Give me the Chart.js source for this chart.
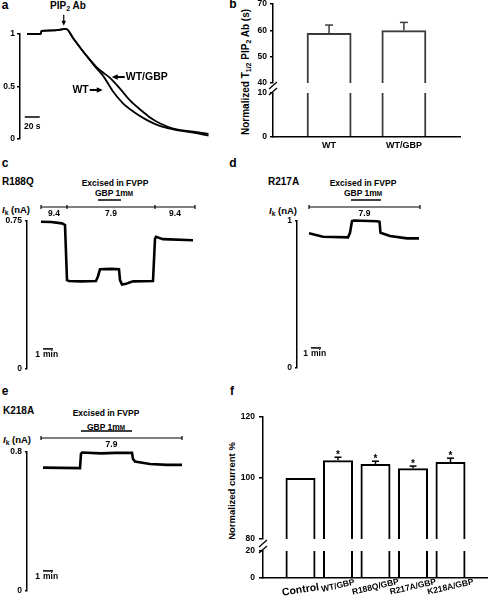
<!DOCTYPE html>
<html>
<head>
<meta charset="utf-8">
<script src="https://cdn.jsdelivr.net/npm/chart.js@4/dist/chart.umd.min.js"></script>
<style>
  body { margin: 0; width: 488px; height: 599px; position: relative; overflow: hidden; background: #fff;
         font-family: "Liberation Sans", Arial, sans-serif; font-weight: bold; color: #000; }
  canvas { position: absolute; }
  .t { position: absolute; line-height: 1; white-space: nowrap; transform: translate(-50%, -50%); }
  .l { transform: translate(0, -50%); }
  .v { transform: translate(-50%, -50%) rotate(-90deg); }
  sub { font-size: 0.7em; vertical-align: -0.3em; line-height: 0; }
</style>
</head>
<body>
<div class="t" style="left:5px;top:5px;font-size:12px">a</div>
<div class="t" style="left:233px;top:4px;font-size:12px">b</div>
<div class="t" style="left:5px;top:163px;font-size:12px">c</div>
<div class="t" style="left:233px;top:163px;font-size:12px">d</div>
<div class="t" style="left:5px;top:391px;font-size:12px">e</div>
<div class="t" style="left:232px;top:391px;font-size:12px">f</div>

<div class="t" style="left:68px;top:6px;font-size:10px">PIP<sub>2</sub> Ab</div>
<div class="t v" style="left:246px;top:72px;font-size:10px">Normalized T<sub>1/2</sub> PIP<sub>2</sub> Ab (s)</div>

<div class="t l" style="left:2px;top:182px;font-size:10px">R188Q</div>
<div class="t" style="left:115px;top:183px;font-size:8.5px">Excised in FVPP</div>
<div class="t" style="left:114px;top:193px;font-size:8.5px">GBP 1m<span style="font-size:.75em">M</span></div>
<div class="t l" style="left:2px;top:210px;font-size:9.5px"><i>I</i><sub>k</sub> (nA)</div>

<div class="t l" style="left:268px;top:182px;font-size:10px">R217A</div>
<div class="t" style="left:363px;top:183px;font-size:8.5px">Excised in FVPP</div>
<div class="t" style="left:363px;top:193px;font-size:8.5px">GBP 1m<span style="font-size:.75em">M</span></div>
<div class="t l" style="left:269px;top:211px;font-size:9.5px"><i>I</i><sub>k</sub> (nA)</div>

<div class="t l" style="left:3px;top:411px;font-size:10px">K218A</div>
<div class="t" style="left:106px;top:413px;font-size:8.5px">Excised in FVPP</div>
<div class="t" style="left:106px;top:427px;font-size:8.5px">GBP 1m<span style="font-size:.75em">M</span></div>
<div class="t l" style="left:3px;top:440px;font-size:9.5px"><i>I</i><sub>k</sub> (nA)</div>

<div class="t v" style="left:232px;top:491px;font-size:9.5px">Normalized current %</div>

<script>
// ---- data ----
// a: normalized current after PIP2 antibody, time in s
const aTimeWT = [0, 18, 19.5, 37, 52, 62, 72, 82, 92, 100, 104, 115, 128, 142, 160, 177, 195, 222, 242];
const aWT     = [1, 1, 1.03, 1.035, 1.048, 0.955, 0.86, 0.77, 0.68, 0.615, 0.575, 0.45, 0.34, 0.26, 0.18, 0.125, 0.092, 0.06, 0.032];
const aTimeGBP = [0, 18, 19.5, 37, 52, 62, 72, 82, 92, 100, 111, 124, 137, 151, 164, 177, 195, 222, 242];
const aGBP     = [1, 1, 1.03, 1.035, 1.048, 0.955, 0.86, 0.77, 0.69, 0.64, 0.58, 0.48, 0.37, 0.28, 0.205, 0.15, 0.1, 0.07, 0.048];

// b: T1/2 (s)
const bGroups = ['WT', 'WT/GBP'];
const bMean = [59, 60];
const bSem = [3, 3];

// c, d, e: current traces, time in min
const cTime = [0, 1, 2.1, 2.4, 2.6, 2.8, 4, 5.5, 5.7, 5.9, 7, 7.8, 7.9, 8.1, 8.5, 9.2, 11.2, 11.4, 11.5, 12.2, 15.2];
const cCurrent = [0.746, 0.745, 0.738, 0.73, 0.45, 0.446, 0.444, 0.446, 0.47, 0.505, 0.507, 0.505, 0.45, 0.428, 0.432, 0.444, 0.446, 0.66, 0.67, 0.658, 0.652];
const cPhEdges = [0, 2.6, 11.4, 15.4];
const cPh = ['9.4', '7.9', '9.4'];
const cGbp = [5.7, 8.0];

const dTime = [0, 1.4, 3.9, 4.1, 4.3, 4.5, 6.8, 7.05, 7.15, 8.1, 9.8, 11];
const dCurrent = [0.916, 0.893, 0.889, 0.92, 1.0, 1.003, 0.998, 0.995, 0.92, 0.898, 0.882, 0.882];
const dPhEdges = [0, 11.1];
const dPh = ['7.9'];
const dGbp = [4.2, 7.2];

const eTime = [0.2, 3.9, 4.0, 4.1, 6, 7.5, 9.1, 9.2, 9.4, 10.9, 12.6, 14.1];
const eCurrent = [0.71, 0.707, 0.79, 0.797, 0.792, 0.795, 0.795, 0.76, 0.745, 0.731, 0.726, 0.726];
const ePhEdges = [0, 14.1];
const ePh = ['7.9'];
const eGbp = [4.0, 9.1];

// f: normalized current %
const fGroups = ['Control', 'WT/GBP', 'R188Q/GBP', 'R217A/GBP', 'K218A/GBP'];
const fMean = [100, 105.8, 104.6, 103.2, 105.2];
const fSem = [0, 1.0, 0.9, 0.7, 1.3];
const fStar = [false, true, true, true, true];

// ---- setup ----
const FONT = '"Liberation Sans", Arial, sans-serif';
Chart.defaults.font.family = FONT;
Chart.defaults.font.weight = 'bold';
Chart.defaults.font.size = 8.5;
Chart.defaults.color = '#000';
Chart.defaults.animation = false;
Chart.defaults.responsive = false;
Chart.defaults.plugins.legend.display = false;
Chart.defaults.plugins.tooltip.enabled = false;

function place(left, top, w, h) {
  const c = document.createElement('canvas');
  c.width = w; c.height = h;
  c.style.left = left + 'px'; c.style.top = top + 'px';
  document.body.appendChild(c);
  return c;
}
function pts(xs, ys) { return xs.map((x, i) => ({x, y: ys[i]})); }
function seg(ctx, x0, y0, x1, y1) { ctx.beginPath(); ctx.moveTo(x0, y0); ctx.lineTo(x1, y1); ctx.stroke(); }
function arrow(ctx, x0, y0, x1, y1, head) {
  const a = Math.atan2(y1 - y0, x1 - x0), c = Math.cos(a), s = Math.sin(a);
  seg(ctx, x0, y0, x1 - head * c * 0.7, y1 - head * s * 0.7);
  ctx.beginPath();
  ctx.moveTo(x1, y1);
  ctx.lineTo(x1 - head * c + head * 0.45 * s, y1 - head * s - head * 0.45 * c);
  ctx.lineTo(x1 - head * c - head * 0.45 * s, y1 - head * s + head * 0.45 * c);
  ctx.closePath(); ctx.fill();
}

function yAxis(min, max, ticks, width, tickLen, pad, color) {
  return {
    min, max,
    afterFit: s => { s.width = width; },
    afterBuildTicks: s => { s.ticks = ticks.map(v => ({value: v})); },
    border: {display: true, color: color || '#000', width: 1.5},
    grid: {display: true, drawOnChartArea: false, drawTicks: true, tickLength: tickLen, color: color || '#000', lineWidth: 1.5},
    ticks: {padding: pad, callback: v => String(v)}
  };
}

// ---- panel a ----
const aDecor = {
  id: 'aDecor',
  afterDraw(chart) {
    const {ctx, chartArea: ca, scales: {x, y}} = chart;
    ctx.save();
    ctx.strokeStyle = '#000'; ctx.fillStyle = '#000'; ctx.lineWidth = 1.5;
    // 20 s scale bar
    const x0 = x.getPixelForValue(-3), x1 = x.getPixelForValue(17), yb = ca.bottom - 22;
    seg(ctx, x0, yb, x1, yb);
    ctx.font = 'bold 8.5px ' + FONT; ctx.textAlign = 'center'; ctx.textBaseline = 'middle';
    ctx.fillText('20 s', (x0 + x1) / 2, yb + 10);
    // PIP2 Ab application
    const px = x.getPixelForValue(49), py = y.getPixelForValue(1.05) - 3;
    ctx.lineWidth = 1.2;
    arrow(ctx, px, py - 11, px, py, 5);
    // curve labels
    ctx.font = 'bold 10.5px ' + FONT;
    const gx = x.getPixelForValue(113), gy = y.getPixelForValue(0.59);
    ctx.lineWidth = 2;
    arrow(ctx, gx + 13, gy, gx, gy, 6);
    ctx.textAlign = 'left'; ctx.fillText('WT/GBP', gx + 14, gy + 0.5);
    const wx = x.getPixelForValue(101), wy = y.getPixelForValue(0.467);
    arrow(ctx, wx - 13, wy, wx, wy, 6);
    ctx.textAlign = 'right'; ctx.fillText('WT', wx - 14, wy + 0.5);
    ctx.restore();
  }
};
new Chart(place(0, 0, 220, 147), {
  type: 'line',
  data: {
    datasets: [
      {data: pts(aTimeWT, aWT), borderColor: '#000', borderWidth: 1.8, pointRadius: 0, cubicInterpolationMode: 'monotone', clip: false},
      {data: pts(aTimeGBP, aGBP), borderColor: '#000', borderWidth: 1.8, pointRadius: 0, cubicInterpolationMode: 'monotone', clip: false}
    ]
  },
  options: {
    layout: {padding: {top: 34, bottom: 8, left: 0, right: 3.5}},
    scales: {
      x: {type: 'linear', min: -9.33, max: 252.67, display: false},
      y: yAxis(0, 1, [0, 0.5, 1], 20, 3, 2)
    }
  },
  plugins: [aDecor]
});

// ---- bar helpers (b, f) ----
function errPlugin(sem, star, color, cap) {
  return {
    id: 'err',
    afterDatasetsDraw(chart) {
      const {ctx, scales: {y}} = chart;
      const meta = chart.getDatasetMeta(0);
      const vals = chart.data.datasets[0].data;
      ctx.save();
      ctx.strokeStyle = color; ctx.fillStyle = '#000'; ctx.lineWidth = 1.5;
      ctx.font = 'bold 10px ' + FONT; ctx.textAlign = 'center'; ctx.textBaseline = 'alphabetic';
      meta.data.forEach((bar, i) => {
        if (!sem[i]) return;
        const yb = y.getPixelForValue(vals[i].y), yt = y.getPixelForValue(vals[i].y + sem[i]);
        seg(ctx, bar.x, yb, bar.x, yt);
        seg(ctx, bar.x - cap / 2, yt, bar.x + cap / 2, yt);
        if (star && star[i]) ctx.fillText('*', bar.x, yt + 1);
      });
      ctx.restore();
    }
  };
}
function labelPlugin(names, dy, angle, sizes) {
  return {
    id: 'labels',
    afterDraw(chart) {
      const {ctx, chartArea: ca, scales: {x}} = chart;
      ctx.save();
      ctx.fillStyle = '#000'; ctx.textAlign = 'center'; ctx.textBaseline = 'middle';
      names.forEach((n, i) => {
        ctx.save();
        ctx.translate(x.getPixelForValue(i), ca.bottom + dy[i]);
        ctx.rotate(angle[i] * Math.PI / 180);
        ctx.font = 'bold ' + sizes[i] + 'px ' + FONT;
        ctx.fillText(n, 0, 0);
        ctx.restore();
      });
      ctx.restore();
    }
  };
}
const breakMarks = {
  id: 'breakMarks',
  afterDraw(chart) {
    const {ctx, chartArea: ca} = chart;
    ctx.save();
    ctx.strokeStyle = '#000'; ctx.lineWidth = 1.2;
    seg(ctx, ca.left - 4, ca.top + 2, ca.left + 4, ca.top - 5);
    seg(ctx, ca.left - 4, ca.top - 4, ca.left + 4, ca.top - 11);
    ctx.restore();
  }
};
function barSet(means, color, pct) {
  return {
    type: 'bar',
    data: means.map((v, i) => ({x: i, y: v})),
    backgroundColor: 'rgba(255,255,255,0)',
    borderColor: color, borderWidth: 2, borderSkipped: 'start',
    barPercentage: pct, categoryPercentage: 1, clip: 0
  };
}
function barX(min, max, n, show, h) {
  return {
    type: 'linear', min, max, offset: false,
    display: show,
    afterBuildTicks: s => { s.ticks = Array.from({length: n}, (_, i) => ({value: i})); },
    afterFit: s => { s.height = h; },
    grid: {display: false, offset: false},
    ticks: {display: false},
    border: {display: true, color: '#000', width: 1.5}
  };
}

// ---- panel b ----
new Chart(place(240, -8, 224, 99), {
  data: {datasets: [barSet(bMean, '#3a3a3a', 0.6)]},
  options: {
    layout: {padding: {top: 12, bottom: 6, left: 0, right: 4}},
    scales: {
      x: barX(-0.75, 1.75, bGroups.length, false, 0),
      y: yAxis(40, 70, [40, 50, 60, 70], 33, 3, 3)
    }
  },
  plugins: [errPlugin(bSem, null, '#3a3a3a', 8)]
});
new Chart(place(240, 81, 224, 74), {
  data: {datasets: [barSet(bMean, '#3a3a3a', 0.6)]},
  options: {
    layout: {padding: {top: 12, bottom: 2, left: 0, right: 4}},
    scales: {
      x: barX(-0.75, 1.75, bGroups.length, true, 16),
      y: yAxis(0, 10, [0, 10], 33, 3, 3)
    }
  },
  plugins: [breakMarks, labelPlugin(bGroups, [9, 9], [0, 0], [9, 9])]
});

// ---- panels c, d, e ----
function traceDecor(edges, phs, gbp) {
  return {
    id: 'traceDecor',
    afterDraw(chart) {
      const {ctx, chartArea: ca, scales: {x}} = chart;
      ctx.save();
      ctx.strokeStyle = '#000'; ctx.fillStyle = '#000';
      const yl = ca.top - 14;
      ctx.lineWidth = 1.2;
      seg(ctx, x.getPixelForValue(edges[0]), yl, x.getPixelForValue(edges[edges.length - 1]), yl);
      edges.forEach(t => { const p = x.getPixelForValue(t); seg(ctx, p, yl - 2, p, yl + 2); });
      ctx.font = 'bold 8.5px ' + FONT; ctx.textAlign = 'center'; ctx.textBaseline = 'middle';
      phs.forEach((lab, i) => {
        ctx.fillText(lab, (x.getPixelForValue(edges[i]) + x.getPixelForValue(edges[i + 1])) / 2, yl + 7);
      });
      ctx.lineWidth = 1.5;
      seg(ctx, x.getPixelForValue(gbp[0]), ca.top - 21, x.getPixelForValue(gbp[1]), ca.top - 21);
      // 1 min scale bar
      const x0 = x.getPixelForValue(0.2), x1 = x.getPixelForValue(1.2), y0 = ca.bottom - 20;
      seg(ctx, x0, y0, x1, y0);
      ctx.textAlign = 'right'; ctx.fillText('1', x0 - 3, y0 + 6);
      ctx.textAlign = 'left'; ctx.fillText('min', x0, y0 + 6);
      ctx.restore();
    }
  };
}
function traceChart(canvas, pad, xs, ys, xmin, xmax, ymax, decor) {
  return new Chart(canvas, {
    type: 'line',
    data: {datasets: [{data: pts(xs, ys), borderColor: '#000', borderWidth: 2.6, pointRadius: 0, tension: 0, clip: false}]},
    options: {
      layout: {padding: pad},
      scales: {
        x: {type: 'linear', min: xmin, max: xmax, display: false},
        y: yAxis(0, ymax, [0, ymax], 27, 2, 3)
      }
    },
    plugins: [decor]
  });
}
traceChart(place(0, 195, 200, 182), {top: 26, bottom: 8, left: 0, right: 3},
  cTime, cCurrent, -1.4, 15.6, 0.75, traceDecor(cPhEdges, cPh, cGbp));
traceChart(place(270, 195, 153, 181), {top: 26, bottom: 8, left: 0, right: 3},
  dTime, dCurrent, -1.2, 11.1, 1, traceDecor(dPhEdges, dPh, dGbp));
traceChart(place(0, 426, 185, 173), {top: 26, bottom: 7, left: 0, right: 3},
  eTime, eCurrent, -1.4, 14.1, 0.8, traceDecor(ePhEdges, ePh, eGbp));

// ---- panel f ----
new Chart(place(240, 405, 248, 143), {
  data: {datasets: [barSet(fMean, '#000', 0.8)]},
  options: {
    layout: {padding: {top: 12, bottom: 6, left: 0, right: 0}},
    scales: {
      x: barX(-1, 5, fGroups.length, false, 0),
      y: yAxis(80, 120, [80, 100, 120], 23, 4, 4)
    }
  },
  plugins: [errPlugin(fSem, fStar, '#000', 7)]
});
new Chart(place(240, 539, 248, 60), {
  data: {datasets: [barSet(fMean, '#000', 0.8)]},
  options: {
    layout: {padding: {top: 12, bottom: 0, left: 0, right: 0}},
    scales: {
      x: barX(-1, 5, fGroups.length, true, 21),
      y: yAxis(0, 20, [0, 20], 23, 4, 4)
    }
  },
  plugins: [breakMarks, labelPlugin(fGroups, [12, 8, 9, 9, 9], [-9, -13, -13, -13, -13], [10.5, 8.5, 8.5, 8.5, 8.5])]
});
</script>
</body>
</html>
